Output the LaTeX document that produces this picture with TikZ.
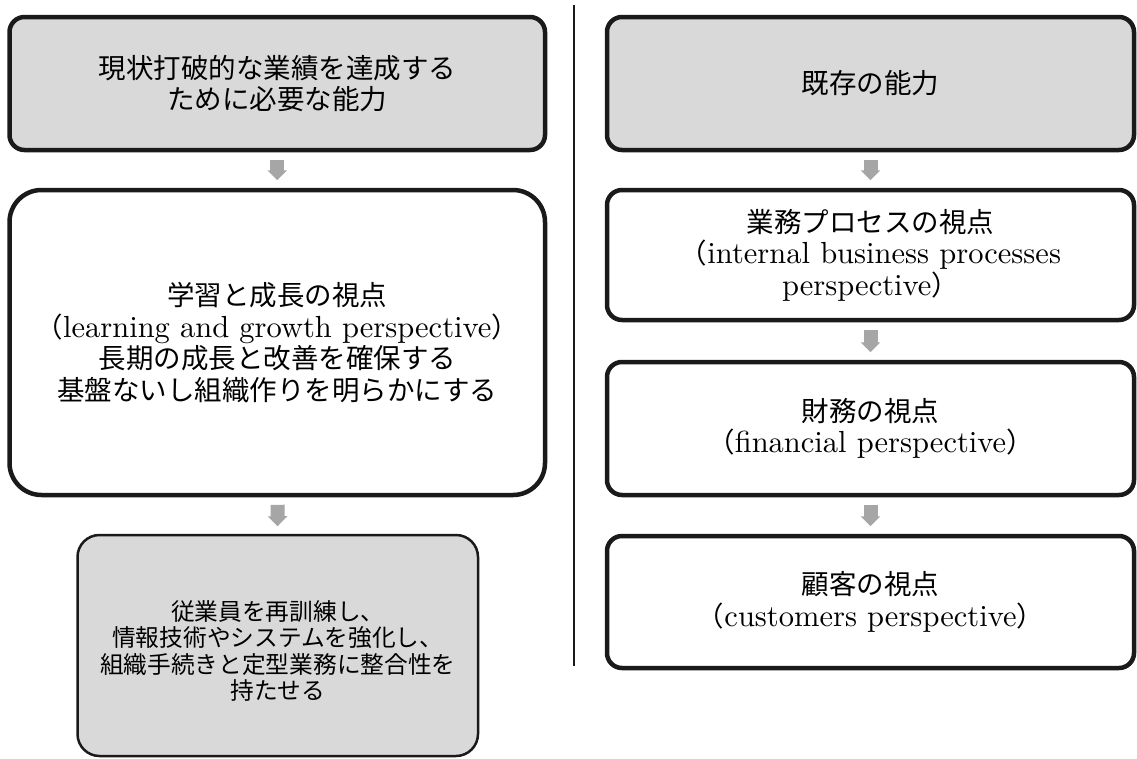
\documentclass[tikz,border=0pt]{standalone}
\usepackage{fontspec}
\setmainfont{lmroman10-regular}[Extension=.otf]
\newfontfamily\cjk{Noto Sans CJK JP}
\usetikzlibrary{arrows.meta}
\definecolor{boxgray}{HTML}{D9D9D9}
\definecolor{arrgray}{HTML}{A6A6A6}
\definecolor{edgecol}{HTML}{1A1A1A}
\newcommand\jpn[1]{{\cjk #1}}
\newcommand\eng[1]{{\fontsize{30.5}{31.5}\selectfont #1}}
\begin{document}
\begin{tikzpicture}[x=1pt,y=-1pt,
  boxbase/.style={draw=edgecol, align=center, inner sep=0pt, text=black},
  bigbox/.style={boxbase, line width=4.5pt, rounded corners=15pt,
    font=\fontsize{27.5}{31.5}\selectfont},
  flow/.style={draw=arrgray, line width=14pt,
    -{Triangle[width=19pt,length=10pt]}, shorten <=7.5pt, shorten >=7.5pt}]
\useasboundingbox (0,0) rectangle (1137,758);

% left column
\node[bigbox, fill=boxgray, minimum width=535.5pt, minimum height=133pt]
  (b1) at (277.25,83.5) {\jpn{現状打破的な業績を達成する}\\\jpn{ために必要な能力}};
\node[bigbox, fill=white, rounded corners=32pt, minimum width=535.5pt, minimum height=305pt]
  (b2) at (277.25,342.5) {\jpn{学習と成長の視点}\\\jpn{（}\eng{learning and growth perspective}\jpn{）}\\\jpn{長期の成長と改善を確保する}\\\jpn{基盤ないし組織作りを明らかにする}};
\node[boxbase, fill=boxgray, line width=2.5pt, rounded corners=22pt,
  minimum width=400.5pt, minimum height=221pt,
  font=\fontsize{23.7}{26.5}\selectfont]
  (b3) at (277.75,645.5) {\rule{0pt}{31pt}\jpn{従業員を再訓練し、}\\\jpn{情報技術やシステムを強化し、}\\\jpn{組織手続きと定型業務に整合性を}\\\jpn{持たせる}};

% separator
\coordinate (vtop) at (574,5);
\coordinate (vbot) at (574,666);
\draw[line width=1.5pt, edgecol] (vtop) -- (vbot);

% right column
\node[bigbox, fill=boxgray, minimum width=527pt, minimum height=133pt]
  (r1) at (870.5,83.5) {\jpn{既存の能力}};
\node[bigbox, fill=white, minimum width=527pt, minimum height=130pt]
  (r2) at (870.5,255) {\jpn{業務プロセスの視点}\\\jpn{（}\eng{internal business processes}\\\eng{perspective}\jpn{）}};
\node[bigbox, fill=white, minimum width=527pt, minimum height=133pt]
  (r3) at (870.5,428.5) {\jpn{財務の視点}\\\jpn{（}\eng{financial perspective}\jpn{）}};
\node[bigbox, fill=white, minimum width=527pt, minimum height=132pt]
  (r4) at (870.5,602) {\jpn{顧客の視点}\\\jpn{（}\eng{customers perspective}\jpn{）}};

% arrows
\draw[flow] (b1) -- (b2);
\draw[flow] (b2) -- (b3);
\draw[flow] (r1) -- (r2);
\draw[flow] (r2) -- (r3);
\draw[flow] (r3) -- (r4);
\end{tikzpicture}
\end{document}
